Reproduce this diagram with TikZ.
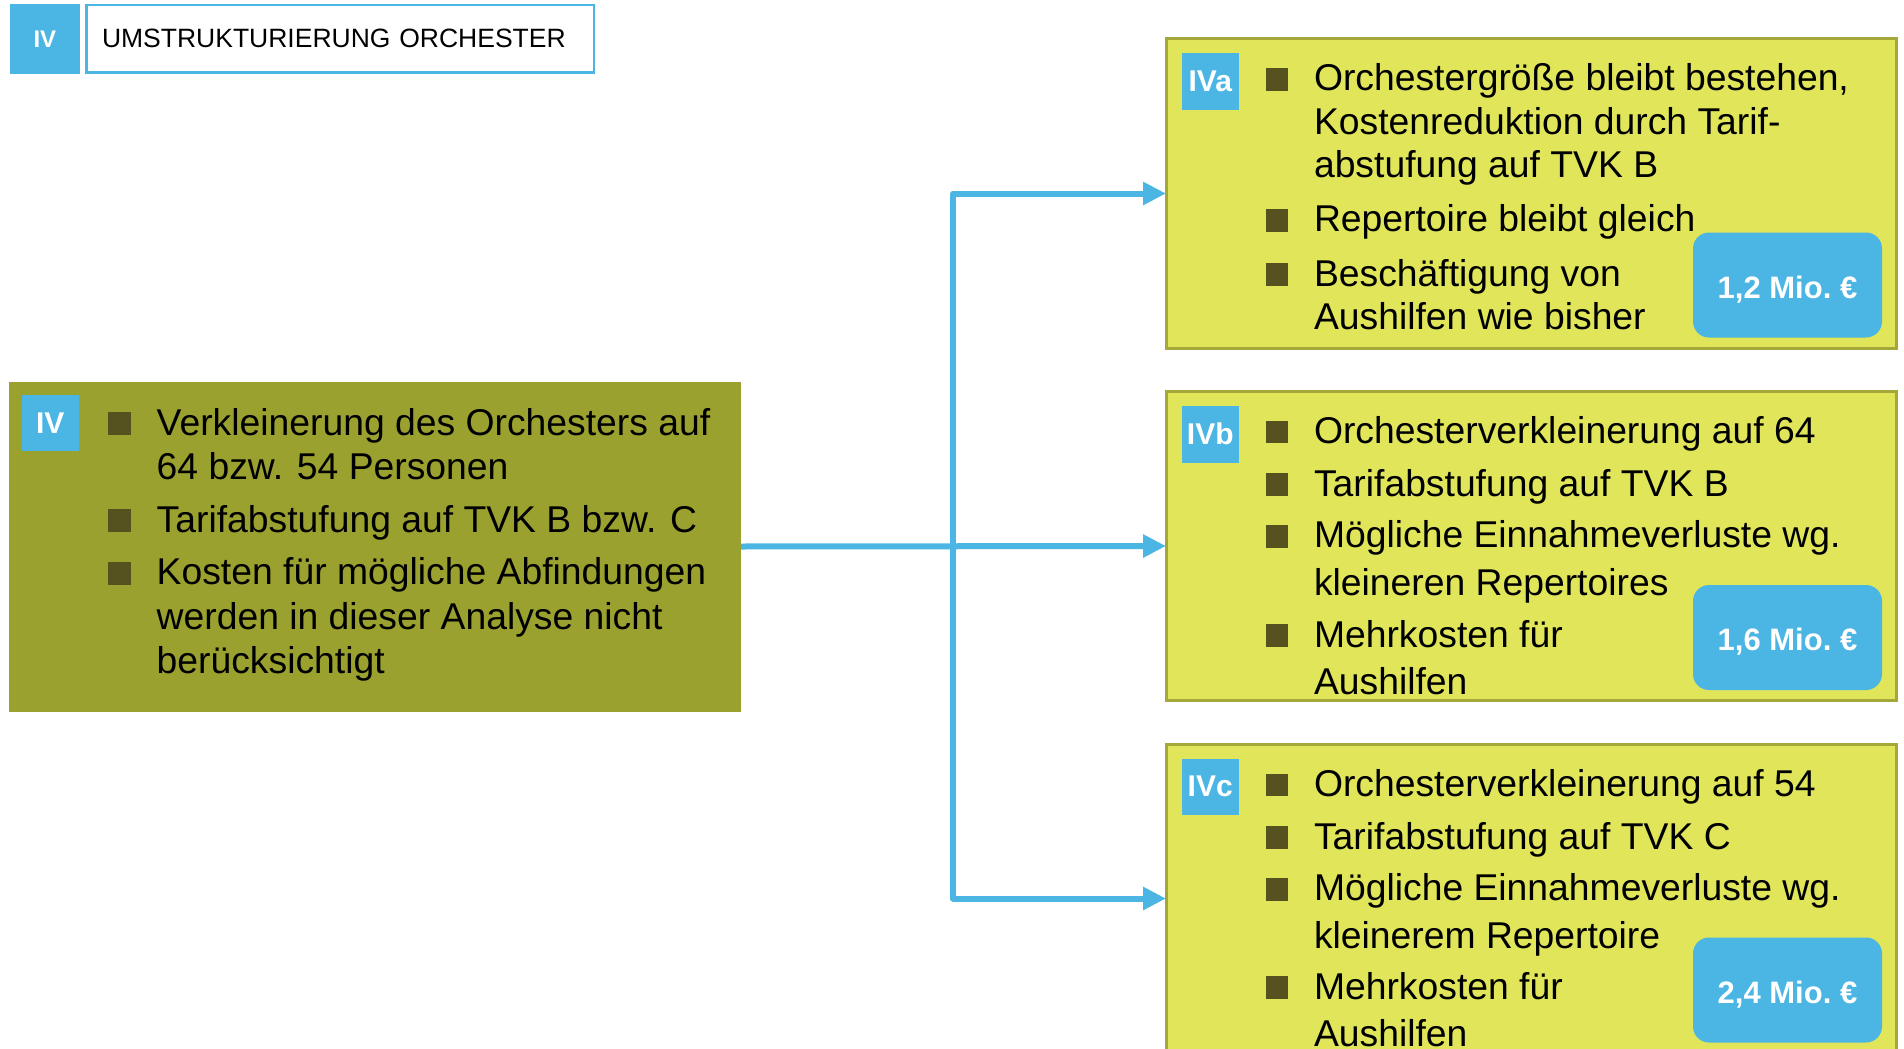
\documentclass[tikz,border=0pt]{standalone}
\usepackage{fontspec}
\setmainfont{Liberation Sans}
\usetikzlibrary{arrows.meta}

\definecolor{skyblue}{HTML}{4BB5E3}
\definecolor{olivebox}{HTML}{9BA12F}
\definecolor{limebox}{HTML}{E0E55A}
\definecolor{limeedge}{HTML}{A4A838}
\definecolor{bulletc}{HTML}{55521F}

% bullet item: name, text x, first baseline y, line skip, text
\newcommand\bitem[5]{%
  \node[item, font=\fontsize{37.3}{#4}\selectfont] (#1) at (#2,#3-0.7*#4) {\strut#5};
  \fill[bulletc] (#2-48.3,#3) rectangle ++(22.6,-22.6);
}

\begin{document}
\begin{tikzpicture}[x=1pt,y=-1pt,
  every node/.style={inner sep=0pt, outer sep=0pt},
  panel/.style={draw=limeedge, line width=3pt, fill=limebox,
    minimum width=730pt, minimum height=309pt, anchor=north west},
  leftpanel/.style={fill=olivebox, minimum width=732.5pt,
    minimum height=330pt, anchor=north west},
  badge/.style={fill=skyblue, text=white,
    font=\fontsize{30}{36}\selectfont\bfseries,
    minimum size=56.5pt, anchor=north west},
  cost/.style={fill=skyblue, text=white, rounded corners=16pt,
    font=\fontsize{31}{37}\selectfont\bfseries,
    text height=29pt, text depth=3pt,
    minimum width=189pt, minimum height=105pt, anchor=north west},
  item/.style={anchor=north west, align=left, text=black},
  conn/.style={draw=skyblue, line width=6pt, line join=round,
    -{Triangle[length=23pt,width=22pt]}},
]
\useasboundingbox (0,0) rectangle (1904,1049);
\clip (0,0) rectangle (1904,1049);

% title bar
\node[fill=skyblue, text=white, font=\fontsize{24}{28}\selectfont\bfseries,
  minimum width=70.3pt, minimum height=70.4pt, anchor=north west]
  (hb) at (9.7,3.6) {IV};
\node[draw=skyblue, line width=2.5pt, fill=white, anchor=north west,
  inner xsep=15.75pt, text width=476pt, align=left, minimum height=67.9pt,
  font=\fontsize{26.5}{32}\selectfont]
  (ht) at (86.25,4.85) {UMSTRUKTURIERUNG ORCHESTER};

% panels
\node[leftpanel] (lb) at (8.5,381.5) {};
\node[panel] (ra) at (1166,39) {};
\node[panel] (rb) at (1166,391.5) {};
\node[panel] (rc) at (1166,744) {};

% badges
\node[badge] (bl) at (22,394.5) {IV};
\node[badge] (ba) at (1182,53.5) {IVa};
\node[badge] (bb) at (1182,406) {IVb};
\node[badge] (bc) at (1182,758.5) {IVc};

% left panel bullets
\bitem{l1}{156.7}{435}{44}{Verkleinerung des Orchesters auf\\64 bzw. 54 Personen}
\bitem{l2}{156.7}{532}{44}{Tarifabstufung auf TVK B bzw. C}
\bitem{l3}{156.7}{584.5}{44.5}{Kosten für mögliche Abfindungen\\werden in dieser Analyse nicht\\berücksichtigt}

% option IVa
\bitem{a1}{1314}{90.7}{43.5}{Orchestergröße bleibt bestehen,\\Kostenreduktion durch Tarif-\\abstufung auf TVK B}
\bitem{a2}{1314}{231.7}{43.5}{Repertoire bleibt gleich}
\bitem{a3}{1314}{286}{43.5}{Beschäftigung von\\Aushilfen wie bisher}

% option IVb
\bitem{b1}{1314}{443.3}{47.5}{Orchesterverkleinerung auf 64}
\bitem{b2}{1314}{496}{47.5}{Tarifabstufung auf TVK B}
\bitem{b3}{1314}{547.5}{47.5}{Mögliche Einnahmeverluste wg.\\kleineren Repertoires}
\bitem{b4}{1314}{647}{47.5}{Mehrkosten für\\Aushilfen}

% option IVc
\bitem{c1}{1314}{796.3}{47.5}{Orchesterverkleinerung auf 54}
\bitem{c2}{1314}{849}{47.5}{Tarifabstufung auf TVK C}
\bitem{c3}{1314}{900.5}{47.5}{Mögliche Einnahmeverluste wg.\\kleinerem Repertoire}
\bitem{c4}{1314}{999}{47}{Mehrkosten für\\Aushilfen}

% cost figures
\node[cost] (ca) at (1693,232.5) {1,2 Mio.\ €};
\node[cost] (cb) at (1693,585) {1,6 Mio.\ €};
\node[cost] (cc) at (1693,937.5) {2,4 Mio.\ €};

% connectors
\coordinate (trunk) at (953,546.5);
\draw[conn] (lb.east) -- (rb.west);
\draw[conn, {Triangle[length=23pt,width=22pt]}-{Triangle[length=23pt,width=22pt]}]
  (ra.west) -- (ra.west -| trunk) -- (rc.west -| trunk) -- (rc.west);
\end{tikzpicture}
\end{document}
